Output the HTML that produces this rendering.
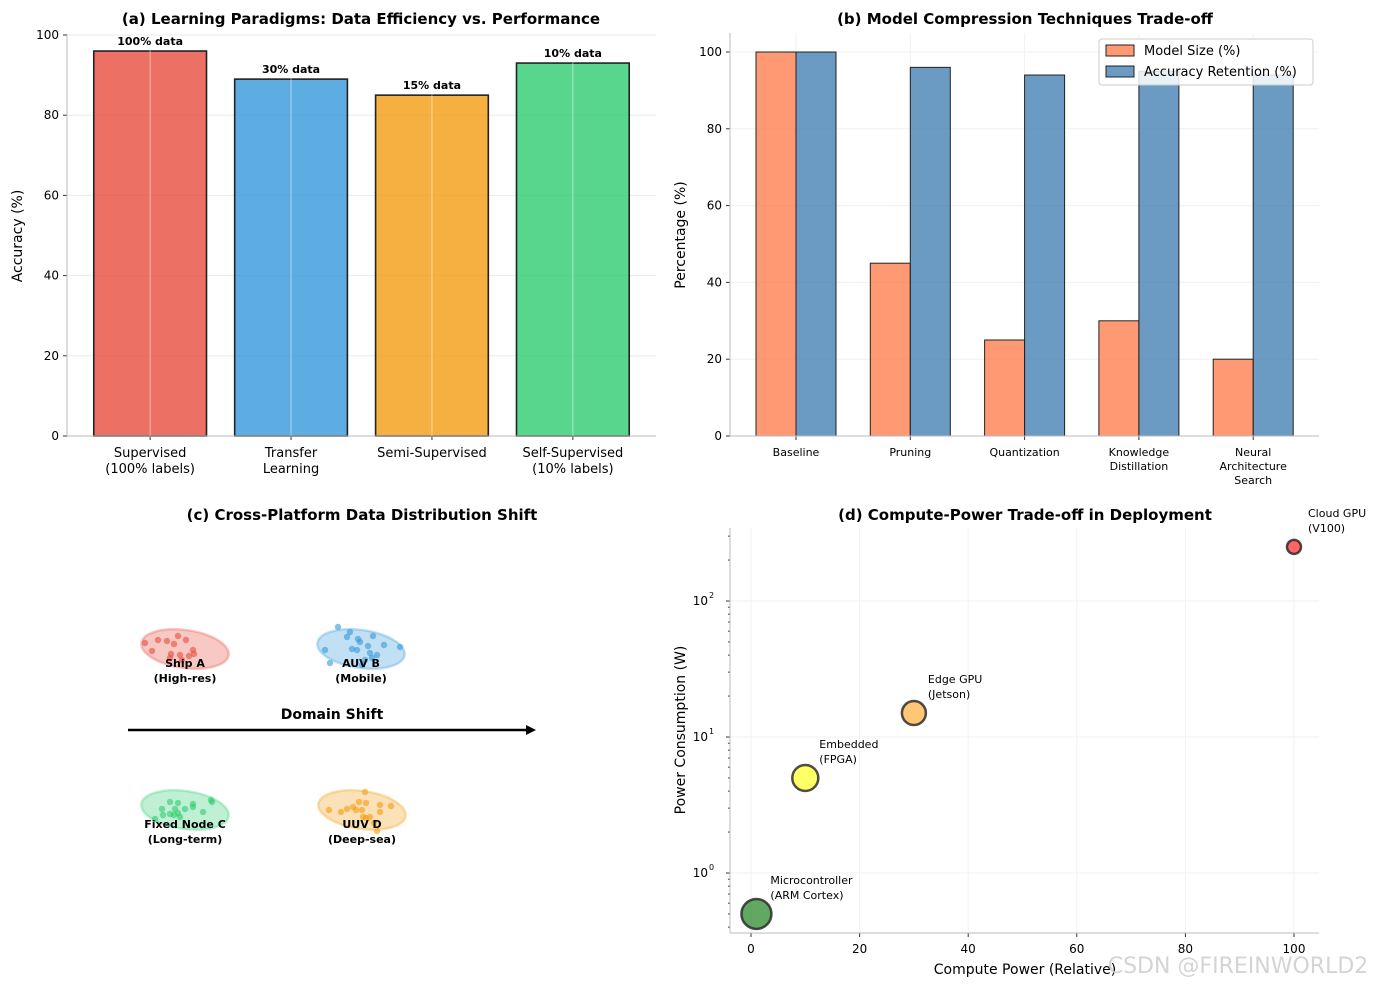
<!DOCTYPE html>
<html><head><meta charset="utf-8"><style>
body{margin:0;background:#fff}
svg{display:block;font-family:"DejaVu Sans","Liberation Sans",sans-serif}
</style></head><body>
<svg id="fig" width="1382" height="987" viewBox="0 0 1382 987" xmlns="http://www.w3.org/2000/svg">
<g id="pa"></g>
<g id="pb"></g>
<g id="pc"></g>
<g id="pd"></g>
<text x="1238" y="973" font-size="22" fill="#cccccc" fill-opacity="0.85" text-anchor="middle">CSDN @FIREINWORLD2</text>
</svg>
<script>
// Panel A data
const aCats = [["Supervised","(100% labels)"],["Transfer","Learning"],["Semi-Supervised"],["Self-Supervised","(10% labels)"]];
const aVals = [96, 89, 85, 93];
const aLabels = ["100% data","30% data","15% data","10% data"];
const aColors = ["#e74c3c","#3498db","#f39c12","#2ecc71"];
const aTicks = [0,20,40,60,80,100];
// Panel B data
const bCats = [["Baseline"],["Pruning"],["Quantization"],["Knowledge","Distillation"],["Neural","Architecture","Search"]];
const bSize = [100, 45, 25, 30, 20];
const bAcc = [100, 96, 94, 95, 94];
const bTicks = [0,20,40,60,80,100];
// Panel C data
const cGroups = [
 {name:"Ship A", sub:"(High-res)", cx:185, cy:649, color:"#e74c3c",
  pts:[[145,643],[152,651],[158,640],[167,641],[174,644],[178,636],[186,640],[193,650],[194,654],[189,656],[180,655],[171,654],[170,658],[182,660]]},
 {name:"AUV B", sub:"(Mobile)", cx:361, cy:649, color:"#3498db",
  pts:[[338,627],[347,637],[350,632],[358,639],[360,642],[373,636],[384,645],[400,647],[325,650],[352,649],[357,650],[368,646],[370,653],[377,655],[365,660],[372,658],[330,663],[362,665]]},
 {name:"Fixed Node C", sub:"(Long-term)", cx:185, cy:810, color:"#2ecc71",
  pts:[[170,802],[178,803],[175,809],[185,809],[193,804],[193,807],[203,812],[211,800],[212,802],[162,809],[163,815],[170,814],[174,815],[178,813],[180,817],[155,819]]},
 {name:"UUV D", sub:"(Deep-sea)", cx:362, cy:810, color:"#f39c12",
  pts:[[365,792],[359,802],[366,803],[353,807],[356,810],[329,810],[347,809],[341,812],[362,810],[380,805],[391,806],[380,812],[363,817],[370,817],[374,823],[377,831],[366,818]]}
];
// Panel D data
const dX = [1, 10, 30, 100];
const dY = [0.5, 5, 15, 250];
const dR = [15, 13, 12, 7];
const dColors = ["#2e8b2e","#ffff33","#ffb347","#ff3333"];
const dNames = [["Microcontroller","(ARM Cortex)"],["Embedded","(FPGA)"],["Edge GPU","(Jetson)"],["Cloud GPU","(V100)"]];
const dXTicks = [0,20,40,60,80,100];
const dYTicks = [0,1,2];

const NS="http://www.w3.org/2000/svg";
function mk(parent, tag, attrs, text){
  const e=document.createElementNS(NS,tag);
  for(const k in attrs) e.setAttribute(k, attrs[k]);
  if(text!==undefined) e.textContent=text;
  parent.appendChild(e); return e;
}

// ---------- Panel A ----------
(function(){
  const g=document.getElementById('pa');
  const L=67,R=656,T=35,B=436;
  const y=v=>B-(v/100)*(B-T-0.6)*1.0/1.0*1;
  const ys=v=>B-v*4.01;
  const step=(R-L)/(aVals.length-1+1.18);
  const x=i=>L+0.59*step+i*step;
  const bw=step*0.8;
  mk(g,'text',{x:361,y:24,'font-size':15,'font-weight':'bold','text-anchor':'middle',},"(a) Learning Paradigms: Data Efficiency vs. Performance");
  aTicks.forEach(t=>{
    const gl=mk(g,'line',{x1:L,x2:R,y1:ys(t),y2:ys(t),stroke:'#ebebeb','stroke-width':1});
    
    
    mk(g,'line',{x1:L-4,x2:L,y1:ys(t),y2:ys(t),stroke:'#333'});
    const tl=mk(g,'text',{x:L-8,y:ys(t)+4,'font-size':12,'text-anchor':'end'},String(t));
    
    
  });
  aVals.forEach((v,i)=>{
    const r=mk(g,'rect',{x:x(i)-bw/2,y:ys(v),width:bw,height:B-ys(v),fill:aColors[i],'fill-opacity':0.8,stroke:'#222','stroke-width':1.6});
    
    
    mk(g,'line',{x1:x(i),x2:x(i),y1:T,y2:B,stroke:'#fff','stroke-opacity':0.5,'stroke-width':1});
    const lb=mk(g,'text',{x:x(i),y:ys(v)-6,'font-size':11,'font-weight':'bold','text-anchor':'middle'},aLabels[i]);
    
    
    mk(g,'line',{x1:x(i),x2:x(i),y1:B,y2:B+4,stroke:'#333'});
    aCats[i].forEach((s,j)=>{
      const c=mk(g,'text',{x:x(i),y:B+21+j*16,'font-size':13,'text-anchor':'middle'},s);
      
      
    });
  });
  mk(g,'line',{x1:L,x2:L,y1:T,y2:B,stroke:'#bbb'});
  mk(g,'line',{x1:L,x2:R,y1:B,y2:B,stroke:'#bbb'});
  mk(g,'text',{x:22,y:236,'font-size':14,'text-anchor':'middle',transform:'rotate(-90 22 236)',},"Accuracy (%)");
})();

// ---------- Panel B ----------
(function(){
  const g=document.getElementById('pb');
  const L=730,R=1319,T=33,B=436;
  const ys=v=>B-v*3.84;
  const step=114.3;
  const x=i=>796+i*step;
  const bw=40;
  mk(g,'text',{x:1025,y:24,'font-size':15,'font-weight':'bold','text-anchor':'middle',},"(b) Model Compression Techniques Trade-off");
  bTicks.forEach(t=>{
    mk(g,'line',{x1:L,x2:R,y1:ys(t),y2:ys(t),stroke:'#f0f0f0'});
    mk(g,'line',{x1:L-4,x2:L,y1:ys(t),y2:ys(t),stroke:'#333'});
    const tl=mk(g,'text',{x:L-8,y:ys(t)+4,'font-size':12,'text-anchor':'end'},String(t));
    
    
  });
  bCats.forEach((c,i)=>mk(g,'line',{x1:x(i),x2:x(i),y1:T,y2:B,stroke:'#f0f0f0'}));
  bSize.forEach((v,i)=>{
    const r=mk(g,'rect',{x:x(i)-bw,y:ys(v),width:bw,height:B-ys(v),fill:'#ff7f50','fill-opacity':0.8,stroke:'#222','stroke-width':1});
    
    
    const r2=mk(g,'rect',{x:x(i),y:ys(bAcc[i]),width:bw,height:B-ys(bAcc[i]),fill:'#4682b4','fill-opacity':0.8,stroke:'#222','stroke-width':1});
    
    
    mk(g,'line',{x1:x(i),x2:x(i),y1:B,y2:B+4,stroke:'#333'});
    bCats[i].forEach((s,j)=>{
      const t=mk(g,'text',{x:x(i),y:B+20+j*14,'font-size':11,'text-anchor':'middle'},s);
      
      
    });
  });
  mk(g,'line',{x1:L,x2:L,y1:T,y2:B,stroke:'#bbb'});
  mk(g,'line',{x1:L,x2:R,y1:B,y2:B,stroke:'#bbb'});
  mk(g,'text',{x:685,y:235,'font-size':14,'text-anchor':'middle',transform:'rotate(-90 685 235)',},"Percentage (%)");
  const lg=mk(g,'g',{});
  mk(lg,'rect',{x:1099,y:39,width:214,height:46,rx:3,fill:'#fff','fill-opacity':0.85,stroke:'#ccc'});
  mk(lg,'rect',{x:1106,y:45,width:28,height:11,fill:'#ff7f50','fill-opacity':0.8,stroke:'#222'});
  mk(lg,'text',{x:1144,y:55,'font-size':13,},"Model Size (%)");
  mk(lg,'rect',{x:1106,y:66,width:28,height:11,fill:'#4682b4','fill-opacity':0.8,stroke:'#222'});
  mk(lg,'text',{x:1144,y:76,'font-size':13,},"Accuracy Retention (%)");
})();

// ---------- Panel C ----------
(function(){
  const g=document.getElementById('pc');
  mk(g,'text',{x:362,y:520,'font-size':15,'font-weight':'bold','text-anchor':'middle',},"(c) Cross-Platform Data Distribution Shift");
  cGroups.forEach((c,i)=>{
    const gg=mk(g,'g',{});
    
    
    mk(gg,'ellipse',{cx:c.cx,cy:c.cy,rx:44,ry:19,transform:`rotate(8 ${c.cx} ${c.cy})`,fill:c.color,'fill-opacity':0.3,stroke:c.color,'stroke-opacity':0.3,'stroke-width':2.5});
    c.pts.forEach(p=>{
      const d=mk(gg,'circle',{cx:p[0],cy:p[1],r:3.2,fill:c.color,'fill-opacity':0.6});
      
      
    });
    mk(gg,'text',{x:c.cx,y:c.cy+18,'font-size':11,'font-weight':'bold','text-anchor':'middle'},c.name);
    mk(gg,'text',{x:c.cx,y:c.cy+33,'font-size':11,'font-weight':'bold','text-anchor':'middle'},c.sub);
  });
  mk(g,'line',{x1:128,x2:530,y1:730,y2:730,stroke:'#000','stroke-width':2.5,});
  mk(g,'path',{d:'M536 730 L526 725 L526 735 Z',fill:'#000'});
  mk(g,'text',{x:332,y:719,'font-size':14,'font-weight':'bold','text-anchor':'middle',},"Domain Shift");
})();

// ---------- Panel D ----------
(function(){
  const g=document.getElementById('pd');
  const L=730,R=1319,T=528,B=933;
  const x=v=>751+v*5.43;
  const y=v=>873-Math.log10(v)*136;
  mk(g,'text',{x:1025,y:520,'font-size':15,'font-weight':'bold','text-anchor':'middle',},"(d) Compute-Power Trade-off in Deployment");
  dXTicks.forEach(t=>{
    mk(g,'line',{x1:x(t),x2:x(t),y1:T,y2:B,stroke:'#f2f2f2'});
    mk(g,'line',{x1:x(t),x2:x(t),y1:B,y2:B+4,stroke:'#333'});
    const tl=mk(g,'text',{x:x(t),y:B+20,'font-size':12,'text-anchor':'middle'},String(t));
    
    
  });
  dYTicks.forEach(e=>{
    const yy=y(Math.pow(10,e));
    mk(g,'line',{x1:L,x2:R,y1:yy,y2:yy,stroke:'#f2f2f2'});
    mk(g,'line',{x1:L-4,x2:L,y1:yy,y2:yy,stroke:'#333'});
    const tl=mk(g,'text',{x:L-22,y:yy+4,'font-size':12,'text-anchor':'end'},"10");
    
    
    mk(g,'text',{x:L-21,y:yy-3,'font-size':8},String(e));
  });
  for(let e=-1;e<=2;e++){
    for(let m=2;m<=9;m++){
      const v=m*Math.pow(10,e), yy=y(v);
      if(yy>T && yy<B) mk(g,'line',{x1:L-2,x2:L,y1:yy,y2:yy,stroke:'#333'});
    }
  }
  dX.forEach((v,i)=>{
    const c=mk(g,'circle',{cx:x(v),cy:y(dY[i]),r:dR[i],fill:dColors[i],'fill-opacity':0.75,stroke:'#222','stroke-opacity':0.8,'stroke-width':2.5});
    
    
    dNames[i].forEach((s,j)=>{
      const t=mk(g,'text',{x:x(v)+14,y:y(dY[i])-30+j*15,'font-size':11},s);
      
      
    });
  });
  mk(g,'line',{x1:L,x2:L,y1:T,y2:B,stroke:'#bbb'});
  mk(g,'line',{x1:L,x2:R,y1:B,y2:B,stroke:'#bbb'});
  mk(g,'text',{x:1025,y:974,'font-size':14,'text-anchor':'middle',},"Compute Power (Relative)");
  mk(g,'text',{x:685,y:730,'font-size':14,'text-anchor':'middle',transform:'rotate(-90 685 730)',},"Power Consumption (W)");
})();
</script>
</body></html>
